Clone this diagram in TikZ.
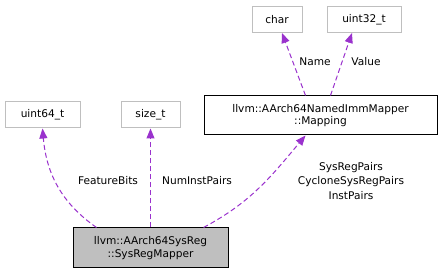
\documentclass[tikz,border=0pt]{standalone}
\usepackage{fontspec}
\setmainfont{DejaVu Sans}
\usepackage{tikz}
\usetikzlibrary{arrows.meta,positioning,calc}
\definecolor{edgepurple}{HTML}{9A32CD}
\definecolor{boxgray}{HTML}{BFBFBF}
\tikzstyle{cls}=[draw=boxgray,line width=1pt,inner sep=0pt,minimum height=26pt,align=center]
\tikzstyle{member}=[draw=black,line width=1pt,inner sep=0pt,minimum height=39pt,align=center]
\tikzstyle{use}=[draw=edgepurple,line width=1pt,dash pattern=on 5pt off 3pt,-{Triangle[length=10pt,width=8pt]}]
\tikzstyle{lbl}=[inner sep=0pt,align=center,font=\fontsize{10.6}{14.5}\selectfont]

\begin{document}
\begin{tikzpicture}[x=1pt,y=1pt,font=\fontsize{10.6}{12.5}\selectfont]
    \useasboundingbox (0,0) rectangle (444,275);
    % types at the top
    \node [cls,minimum width=50pt] (char) at (277,255.5) {char};
    \node [cls,minimum width=74pt] (uint32) at (364,255.5) {uint32\_t};
    \node [member,minimum width=233pt] (mapping) at (320.5,159.5)
      {llvm::AArch64NamedImmMapper\\::Mapping};
    \node [cls,minimum width=75pt] (uint64) at (42.5,160) {uint64\_t};
    \node [cls,minimum width=59pt] (sizet) at (150.5,160) {size\_t};
    \node [member,fill=boxgray,minimum width=155pt,minimum height=40pt] (mapper) at (150.5,27)
      {llvm::AArch64SysReg\\::SysRegMapper};

    % members
    \draw [use] ([xshift=-15pt]mapping.north) -- ([xshift=5pt]char.south);
    \draw [use] ([xshift=10pt]mapping.north) -- ([xshift=-12pt]uint32.south);
    \draw [use] ([xshift=-54pt]mapper.north) to[out=145,in=-85] (uint64.south);
    \draw [use] (mapper.north) -- (sizet.south);
    \draw [use] ([xshift=53pt]mapper.north) to[out=28,in=-130] ([xshift=-15pt]mapping.south);

    \node [lbl] (name) at (315,213) {Name};
    \node [lbl] (value) at (366,213) {Value};
    \node [lbl] (featbits) at (108,94) {FeatureBits};
    \node [lbl] (numinst) at (197,94) {NumInstPairs};
    \node [lbl] (pairs) at (351,94) {SysRegPairs\\CycloneSysRegPairs\\InstPairs};
  \end{tikzpicture}
\end{document}
